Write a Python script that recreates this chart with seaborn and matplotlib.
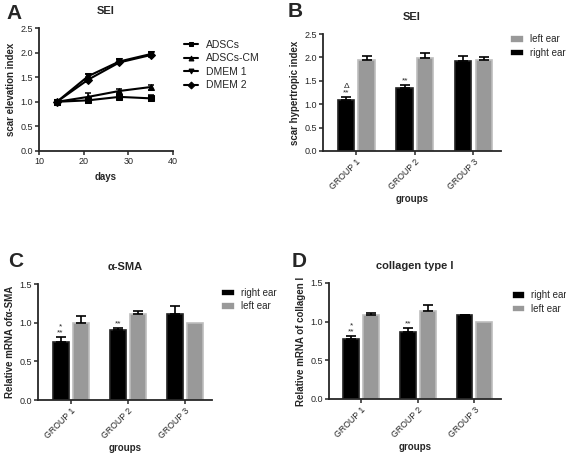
import numpy as np
import pandas as pd
import matplotlib
matplotlib.use("Agg")
import matplotlib.pyplot as plt
import seaborn as sns

sns.set_style("ticks")
plt.rcParams['font.family'] = ['Liberation Sans', 'DejaVu Sans']

# ---------------- data ----------------
days = [14, 21, 28, 35]
line_series = ["ADSCs", "ADSCs-CM", "DMEM 1", "DMEM 2"]
adscs = [1.00, 1.03, 1.10, 1.07]
adscs_cm = [1.00, 1.10, 1.22, 1.30]
dmem1 = [1.00, 1.52, 1.82, 1.97]
dmem2 = [1.00, 1.45, 1.80, 1.95]
adscs_err = [0.02, 0.05, 0.05, 0.06]
adscs_cm_err = [0.02, 0.07, 0.05, 0.05]
dmem1_err = [0.02, 0.04, 0.04, 0.04]
dmem2_err = [0.02, 0.05, 0.04, 0.04]

groups = ["GROUP 1", "GROUP 2", "GROUP 3"]
ears = ["right ear", "left ear"]

sei_right = [1.10, 1.35, 1.92]
sei_right_err = [0.05, 0.07, 0.10]
sei_left = [1.95, 1.99, 1.95]
sei_left_err = [0.07, 0.10, 0.05]
sei_marks = ["Δ\n**", "**", ""]

sma_right = [0.75, 0.90, 1.11]
sma_right_err = [0.06, 0.03, 0.11]
sma_left = [0.99, 1.11, 1.00]
sma_left_err = [0.10, 0.04, 0.00]
sma_marks = ["*\n**", "**", ""]

col_right = [0.77, 0.86, 1.08]
col_right_err = [0.04, 0.06, 0.01]
col_left = [1.09, 1.14, 1.00]
col_left_err = [0.02, 0.07, 0.00]
col_marks = ["*\n**", "**", ""]

W, H = 566, 454
fig = plt.figure(figsize=(W / 100, H / 100), dpi=100)


def rect(l, t, r, b):
    return [l / W, 1 - b / H, (r - l) / W, (b - t) / H]


def style_axes(ax):
    sns.despine(ax=ax)
    for s in ["left", "bottom"]:
        ax.spines[s].set_linewidth(1.3)
    ax.tick_params(axis="both", width=1.1, length=3, labelsize=6.5, pad=1.5)


lab_font = dict(fontsize=7, fontweight="bold")
title_font = dict(fontsize=8, fontweight="bold")

# ---------------- panel A ----------------
axA = fig.add_axes(rect(39, 28, 173, 151))
dfA = pd.DataFrame({
    "days": days * 4,
    "value": adscs + adscs_cm + dmem1 + dmem2,
    "err": adscs_err + adscs_cm_err + dmem1_err + dmem2_err,
    "series": sum([[s] * 4 for s in line_series], []),
})
markers = {"ADSCs": "s", "ADSCs-CM": "^", "DMEM 1": "v", "DMEM 2": "D"}
sns.lineplot(data=dfA, x="days", y="value", hue="series", style="series",
             markers=markers, dashes=False, palette=["black"] * 4,
             linewidth=1.5, markersize=4, markeredgecolor="black", ax=axA,
             legend=True)
for s in line_series:
    d = dfA[dfA.series == s]
    axA.errorbar(d["days"], d["value"], yerr=d["err"], fmt="none",
                 ecolor="black", elinewidth=1.1, capsize=2.5, capthick=1.1)
axA.set_xlim(10, 40)
axA.set_ylim(0, 2.5)
axA.set_xticks([10, 20, 30, 40])
axA.set_yticks([0.0, 0.5, 1.0, 1.5, 2.0, 2.5])
axA.set_yticklabels(["0.0", "0.5", "1.0", "1.5", "2.0", "2.5"])
axA.set_xlabel("days", labelpad=4, **lab_font)
axA.set_ylabel("scar elevation index", labelpad=3, **lab_font)
axA.set_title("SEI", pad=10, **title_font)
style_axes(axA)
h, l = axA.get_legend_handles_labels()
for hh in h:
    hh.set_markersize(3.5)
axA.legend(h, l, loc="upper left", bbox_to_anchor=(1.05, 0.94), frameon=False,
           fontsize=7.5, handlelength=1.4, handletextpad=0.7, labelspacing=0.35,
           borderaxespad=0)


# ---------------- bar panels ----------------
def bar_panel(box, right, right_err, left, left_err, marks, ylim, yticks,
              ylabel, title, legend_order, legend_anchor):
    ax = fig.add_axes(rect(*box))
    df = pd.DataFrame({
        "group": groups * 2,
        "ear": [ears[0]] * 3 + [ears[1]] * 3,
        "value": right + left,
    })
    sns.barplot(data=df, x="group", y="value", hue="ear", hue_order=ears,
                palette=["#000000", "#999999"], width=0.7, gap=0.2,
                errorbar=None, ax=ax, linewidth=1.2)
    errs = {ears[0]: right_err, ears[1]: left_err}
    vals = {ears[0]: right, ears[1]: left}
    for cont, ear in zip(ax.containers, ears):
        for i, p in enumerate(cont):
            if ear == ears[0]:
                p.set_edgecolor("#222222")
            else:
                p.set_edgecolor("#bdbdbd")
            xc = p.get_x() + p.get_width() / 2
            e = errs[ear][i]
            if e > 0:
                ax.errorbar([xc], [vals[ear][i]], yerr=[[0], [e]], fmt="none",
                            ecolor="black", elinewidth=1.2, capsize=3.5,
                            capthick=1.2, zorder=1)
            if ear == ears[0] and marks[i]:
                ax.text(xc, vals[ear][i] + e + ylim[1] * 0.005, marks[i],
                        ha="center", va="bottom", fontsize=6,
                        linespacing=0.85)
    ax.set_ylim(*ylim)
    ax.set_xlim(-0.57, 2.47)
    ax.set_yticks(yticks)
    ax.set_yticklabels([f"{t:.1f}" for t in yticks])
    ax.set_xticks(range(3))
    ax.set_xticklabels(groups, rotation=45, ha="right", rotation_mode="anchor")
    ax.set_xlabel("groups", labelpad=2, **lab_font)
    ax.set_ylabel(ylabel, labelpad=3, **lab_font)
    ax.set_title(title, pad=10, **title_font)
    style_axes(ax)
    ax.tick_params(axis="x", labelsize=6.3)
    h, l = ax.get_legend_handles_labels()
    idx = [l.index(o) for o in legend_order]
    ax.legend([h[i] for i in idx], [l[i] for i in idx], loc="upper left",
              bbox_to_anchor=legend_anchor, frameon=False, fontsize=7,
              handlelength=1.4, handleheight=0.8, handletextpad=0.6,
              labelspacing=0.35, borderaxespad=0)
    return ax


bar_panel((323, 34, 501, 151), sei_right, sei_right_err, sei_left, sei_left_err,
          sei_marks, (0, 2.5), [0.0, 0.5, 1.0, 1.5, 2.0, 2.5],
          "scar hypertropic index", "SEI", ["left ear", "right ear"], (1.03, 1.03))
bar_panel((38, 284, 212, 400), sma_right, sma_right_err, sma_left, sma_left_err,
          sma_marks, (0, 1.5), [0.0, 0.5, 1.0, 1.5],
          "Relative mRNA ofα-SMA", "α-SMA", ["right ear", "left ear"], (1.03, 1.0))
bar_panel((329, 283, 501, 399), col_right, col_right_err, col_left, col_left_err,
          col_marks, (0, 1.5), [0.0, 0.5, 1.0, 1.5],
          "Relative mRNA of collagen I", "collagen type I", ["right ear", "left ear"],
          (1.04, 0.97))

# panel letters
for txt, x, y in [("A", 6, 4), ("B", 288, 2), ("C", 8, 252), ("D", 292, 252)]:
    fig.text(x / W, 1 - y / H, txt, fontsize=15, fontweight="bold", va="top",
             ha="left")

fig.savefig("out.png", dpi=100)
